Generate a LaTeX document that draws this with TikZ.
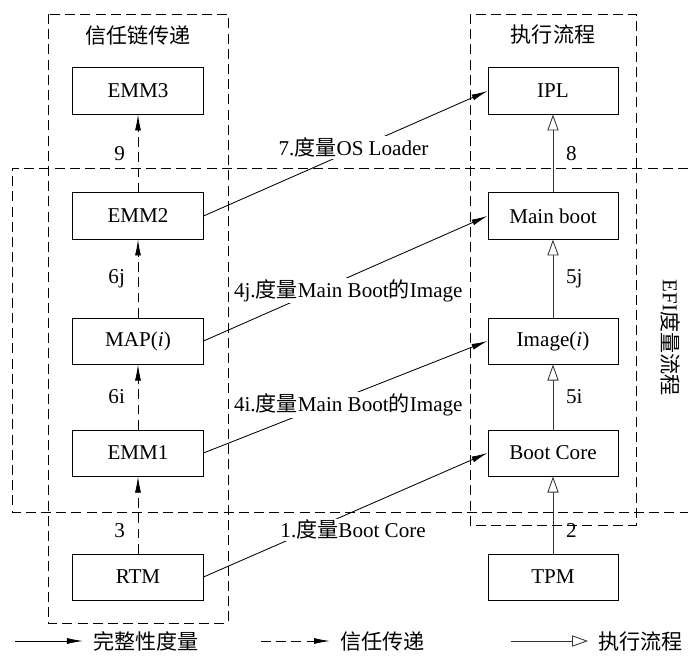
\documentclass[tikz,border=0pt]{standalone}
\usepackage{fontspec}
\setmainfont{Liberation Serif}
\newfontfamily\cjk[Scale=1.0]{Noto Sans CJK SC}
\usetikzlibrary{arrows.meta,positioning}
\newcommand{\cn}[1]{{\cjk #1}}
\tikzset{
  blk/.style={draw, line width=0.7pt, minimum width=3.25cm, minimum height=1.15cm, inner sep=0pt},
  grp/.style={draw, dash pattern=on 0.25cm off 0.13cm, line width=0.6pt},
  meas/.style={line width=0.6pt, -{Latex[length=0.4cm,width=0.15cm]}},
  trust/.style={line width=0.6pt, dash pattern=on 0.24cm off 0.14cm, -{Latex[length=0.4cm,width=0.15cm]}},
  exec/.style={line width=0.6pt, draw=black!80, -{Triangle[open,length=0.4cm,width=0.28cm]}},
  lbl/.style={fill=white, inner sep=1pt},
  legtext/.style={anchor=west, inner xsep=7pt, inner ysep=2pt}
}

\begin{document}
\begin{tikzpicture}[x=0.025cm, y=-0.025cm, font=\fontsize{15}{18}\selectfont]
\useasboundingbox (0,0) rectangle (688,661);
% trust chain column
\node[blk] (emm3) at (138,91) {EMM3};
\node[blk] (emm2) at (138,216) {EMM2};
\node[blk] (map) at (138,341) {MAP(\textit{i})};
\node[blk] (emm1) at (138,453) {EMM1};
\node[blk] (rtm) at (138,577) {RTM};
% execution column
\node[blk] (ipl) at (553,91) {IPL};
\node[blk] (mainboot) at (553,216) {Main boot};
\node[blk] (image) at (553,341) {Image(\textit{i})};
\node[blk] (bootcore) at (553,453) {Boot Core};
\node[blk] (tpm) at (553,577) {TPM};
% titles
\node (ttrust) at (138,35) {\cn{信任链传递}};
\node (texec) at (553,35) {\cn{执行流程}};
\node[rotate=-90] (tefi) at (671,338) {EFI\cn{度量流程}};

% trust transfer
\draw[trust] (rtm) -- node[pos=0.3, left=0.2cm] (n3) {3} (emm1);
\draw[trust] (emm1) -- node[left=0.2cm] (n6i) {6i} (map);
\draw[trust] (map) -- node[left=0.2cm] (n6j) {6j} (emm2);
\draw[trust] (emm2) -- node[left=0.2cm] (n9) {9} (emm3);

% execution flow
\draw[exec] (tpm) -- node[pos=0.3, right=0.2cm] (n2) {2} (bootcore);
\draw[exec] (bootcore) -- node[right=0.2cm] (n5i) {5i} (image);
\draw[exec] (image) -- node[right=0.2cm] (n5j) {5j} (mainboot);
\draw[exec] (mainboot) -- node[right=0.2cm] (n8) {8} (ipl);

% integrity measurement
\draw[meas] (rtm.east) -- node[lbl, xshift=0.19cm, yshift=-0.37cm] (m1) {1.\cn{度量}Boot Core} (bootcore.west);
\draw[meas] (emm1.east) -- node[lbl, xshift=0.07cm, yshift=-0.2cm] (m4i) {4i.\cn{度量}Main Boot\cn{的}Image} (image.west);
\draw[meas] (map.east) -- node[lbl, xshift=0.07cm, yshift=-0.31cm] (m4j) {4j.\cn{度量}Main Boot\cn{的}Image} (mainboot.west);
\draw[meas] (emm2.east) -- node[lbl, xshift=0.2cm, yshift=0.15cm] (m7) {7.\cn{度量}OS Loader} (ipl.west);

% groups
\draw[grp] (48,14) rectangle (228,623);
\draw[grp] (470,14) rectangle (636,525);
\draw[grp] (688,168) -- (12,168) -- (12,512) -- (688,512);

% legend
\coordinate (lgm) at (15,641);
\node[legtext] (tlgm) at (83,641) {\cn{完整性度量}};
\draw[meas] (lgm) -- (tlgm.west);
\coordinate (lgt) at (261,641);
\node[legtext] (tlgt) at (330,641) {\cn{信任传递}};
\draw[trust] (lgt) -- (tlgt.west);
\coordinate (lge) at (511,641);
\node[legtext] (tlge) at (588,641) {\cn{执行流程}};
\draw[exec] (lge) -- (tlge.west);
\end{tikzpicture}
\end{document}
